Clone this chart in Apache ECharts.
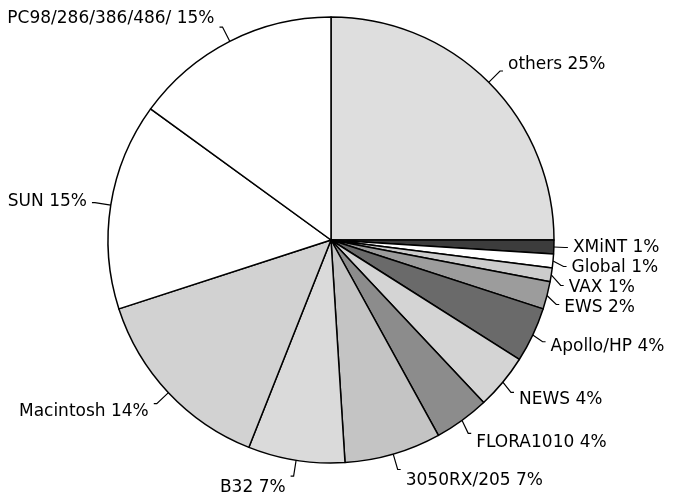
<!DOCTYPE html>
<html>
<head>
<meta charset="utf-8">
<script src="https://cdn.jsdelivr.net/npm/echarts@6/dist/echarts.min.js"></script>
<style>
  html, body { margin: 0; padding: 0; background: #fff; }
  #chart { width: 674px; height: 496px; }
</style>
</head>
<body>
<div id="chart"></div>
<script>
// share of machines, clockwise from 12 o'clock
const names = ['others', 'XMiNT', 'Global', 'VAX', 'EWS', 'Apollo/HP', 'NEWS', 'FLORA1010',
  '3050RX/205', 'B32', 'Macintosh', 'SUN', 'PC98/286/386/486/'];
const shares = [25, 1, 1, 1, 2, 4, 4, 4, 7, 7, 14, 15, 15];
const fills = ['#dedede', '#3c3c3c', '#ffffff', '#cccccc', '#9c9c9c', '#6a6a6a', '#d4d4d4', '#8c8c8c',
  '#c4c4c4', '#dadada', '#d2d2d2', '#ffffff', '#ffffff'];

// labels in the original sit just beyond the end of their leader line
let acc = 0;
const nudge = shares.map(v => {
  const mid = (90 - (acc + v / 2) * 3.6) * Math.PI / 180;
  acc += v;
  const s = Math.sin(mid);
  return s > 0 ? -s * 9 : -s * 12;
});

const chart = echarts.init(document.getElementById('chart'));
chart.setOption({
  backgroundColor: '#fff',
  animation: false,
  series: [{
    type: 'pie',
    center: [331, 240],
    radius: 223,
    startAngle: 90,
    clockwise: true,
    avoidLabelOverlap: true,
    itemStyle: { borderColor: '#000', borderWidth: 1.5 },
    label: {
      show: true,
      position: 'outside',
      formatter: p => p.name + ' ' + p.value + '%',
      color: '#000',
      fontFamily: 'DejaVu Sans, sans-serif',
      fontSize: 17,
      lineHeight: 14,
      overflow: 'none'
    },
    labelLine: {
      show: true,
      length: 16,
      length2: 3,
      lineStyle: { color: '#000', width: 1.2 }
    },
    labelLayout: p => ({ dy: nudge[p.dataIndex] }),
    emphasis: { disabled: true },
    data: names.map((n, i) => ({ name: n, value: shares[i], itemStyle: { color: fills[i] } }))
  }]
});
</script>
</body>
</html>
